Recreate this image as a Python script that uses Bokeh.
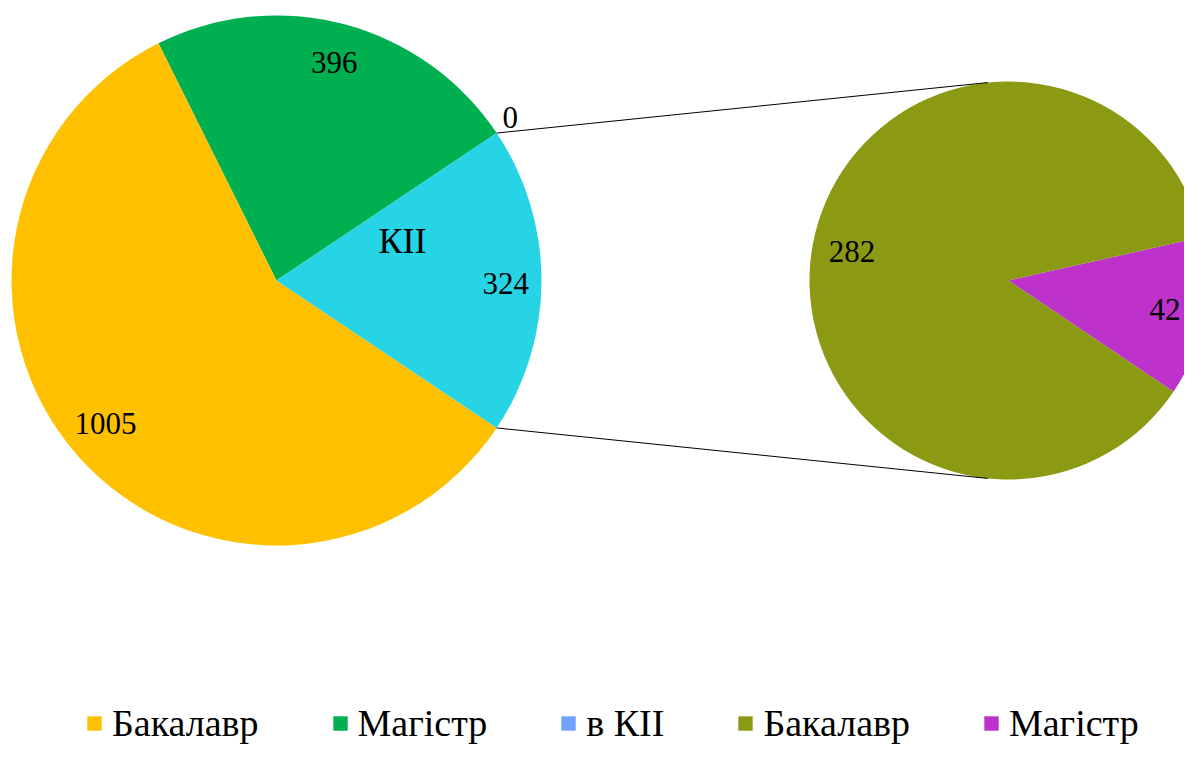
import math
from bokeh.plotting import figure
from bokeh.models import Range1d, Legend, LegendItem, ColumnDataSource
from bokeh.core.properties import value
from bokeh.embed import file_html
from bokeh.resources import INLINE

# ---- data ----
main_categories = ["Бакалавр", "Магістр", "в КІІ"]
main_values = [1005, 396, 0]
other_label = "КІІ"
sub_categories = ["Бакалавр", "Магістр"]
sub_values = [282, 42]

# ---- style ----
main_colors = ["#FFC000", "#00B050", "#6FA1FF"]
other_color = "#26D4E6"
sub_colors = ["#8B9A12", "#BC32CA"]
FONT = "Liberation Serif"
LABEL_SIZE = "31px"
NAME_SIZE = "36px"
LEGEND_SIZE = "38px"

W, H = 1184, 747
# data coords = screen pixels, y flipped (y_data = 763 - y_screen)
p = figure(width=W, height=H, x_range=Range1d(0, W), y_range=Range1d(763 - H, 763),
           output_backend="svg", toolbar_location=None, min_border=0)
p.axis.visible = False
p.grid.visible = False
p.outline_line_color = None
p.background_fill_color = "white"

cx1, cy1, r1 = 276, 483, 265
cx2, cy2, r2 = 1008, 483, 199
sub_start = math.radians(-34)
conn_angle = math.radians(96)

other_total = sum(sub_values)
total = sum(main_values) + other_total
other_span = 2 * math.pi * other_total / total

renderers_main = {}
label_x, label_y, label_t = [], [], []

main_label_frac = {0: 0.84, 1: 0.85, 2: 1.08}
main_label_dang = {0: math.radians(-1.5), 1: 0.0, 2: 0.0}
ang = other_span / 2
for i in reversed(range(len(main_values))):
    span = 2 * math.pi * main_values[i] / total
    src = ColumnDataSource(dict(x=[cx1], y=[cy1], s=[ang], e=[ang + span],
                                r=[r1 if main_values[i] > 0 else 0]))
    r = p.wedge(x="x", y="y", radius="r", start_angle="s", end_angle="e", source=src,
                fill_color=main_colors[i], line_color=None)
    renderers_main[i] = r
    mid = ang + span / 2 + main_label_dang[i]
    f = main_label_frac[i]
    lx = cx1 + f * r1 * math.cos(mid)
    ly = cy1 + f * r1 * math.sin(mid)
    if main_values[i] == 0:
        lx -= 4
        ly += 4
    label_x.append(lx)
    label_y.append(ly)
    label_t.append(str(main_values[i]))
    ang += span

# other slice (KII), drawn last on the main pie
p.wedge(x=cx1, y=cy1, radius=r1, start_angle=-other_span / 2, end_angle=other_span / 2,
        fill_color=other_color, line_color=None)
label_x.append(cx1 + 0.865 * r1)
label_y.append(cy1 - 3)
label_t.append(str(other_total))
p.text(x=[cx1 + 126], y=[cy1 + 40], text=[other_label], text_font=value(FONT),
       text_font_size=NAME_SIZE, text_align="center", text_baseline="middle", text_color="black")

# sub pie
renderers_sub = {}
sub_label_frac = {0: 0.8, 1: 0.8}
ang = sub_start
for i in reversed(range(len(sub_values))):
    span = 2 * math.pi * sub_values[i] / other_total
    src = ColumnDataSource(dict(x=[cx2], y=[cy2], s=[ang], e=[ang + span]))
    r = p.wedge(x="x", y="y", radius=r2, start_angle="s", end_angle="e", source=src,
                fill_color=sub_colors[i], line_color=None)
    renderers_sub[i] = r
    mid = ang + span / 2
    f = sub_label_frac[i]
    label_x.append(cx2 + f * r2 * math.cos(mid))
    label_y.append(cy2 + f * r2 * math.sin(mid))
    label_t.append(str(sub_values[i]))
    ang += span

# connector lines
for sgn in (1, -1):
    a1 = sgn * other_span / 2
    a2 = sgn * conn_angle
    p.line([cx1 + r1 * math.cos(a1), cx2 + r2 * math.cos(a2)],
           [cy1 + r1 * math.sin(a1), cy2 + r2 * math.sin(a2)],
           line_color="black", line_width=1)

p.text(x=label_x, y=label_y, text=label_t, text_font=value(FONT), text_font_size=LABEL_SIZE,
       text_align="center", text_baseline="middle", text_color="black")

items = [LegendItem(label=main_categories[i], renderers=[renderers_main[i]]) for i in range(len(main_categories))]
items += [LegendItem(label=sub_categories[i], renderers=[renderers_sub[i]]) for i in range(len(sub_categories))]
legend = Legend(items=items, orientation="horizontal", location=(85, 2), spacing=72,
                glyph_width=18, glyph_height=18, label_standoff=9,
                label_text_font=FONT, label_text_font_size=LEGEND_SIZE, label_text_color="black",
                padding=0, margin=0, border_line_color=None, background_fill_alpha=0)
p.add_layout(legend)

open("out.html", "w").write(file_html(p, INLINE))
